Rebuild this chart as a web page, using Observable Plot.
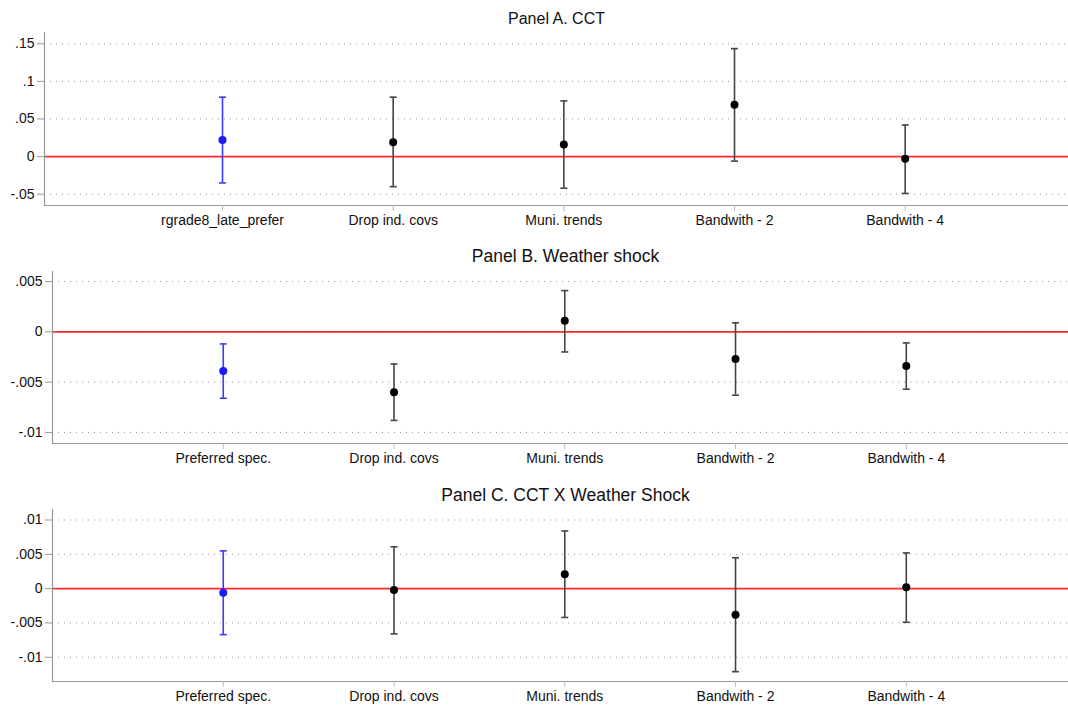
<!DOCTYPE html>
<html>
<head>
<meta charset="utf-8">
<script src="https://cdn.jsdelivr.net/npm/d3@7"></script>
<script src="https://cdn.jsdelivr.net/npm/@observablehq/plot@0.6"></script>
<style>
  html, body { margin: 0; padding: 0; background: #fff; }
  #chart svg { display: block; }
</style>
</head>
<body>
<div id="chart"></div>
<script>
// ---- data ----
const positions = [1, 2, 3, 4, 5];
const labelsA = ["rgrade8_late_prefer", "Drop ind. covs", "Muni. trends", "Bandwith - 2", "Bandwith - 4"];
const labelsBC = ["Preferred spec.", "Drop ind. covs", "Muni. trends", "Bandwith - 2", "Bandwith - 4"];

const titleA = "Panel A. CCT";
const estA = [0.022, 0.019, 0.016, 0.069, -0.003];
const loA  = [-0.035, -0.040, -0.042, -0.006, -0.049];
const hiA  = [0.079, 0.079, 0.074, 0.1436, 0.042];
const ticksA = [-0.05, 0, 0.05, 0.1, 0.15];

const titleB = "Panel B. Weather shock";
const estB = [-0.0039, -0.0060, 0.0011, -0.0027, -0.0034];
const loB  = [-0.0066, -0.0088, -0.0020, -0.0063, -0.0057];
const hiB  = [-0.0012, -0.0032, 0.0041, 0.0009, -0.0011];
const ticksB = [-0.01, -0.005, 0, 0.005];

const titleC = "Panel C. CCT X Weather Shock";
const estC = [-0.0006, -0.0002, 0.0021, -0.0038, 0.0002];
const loC  = [-0.0067, -0.0066, -0.0042, -0.0121, -0.0049];
const hiC  = [0.0055, 0.0061, 0.0084, 0.0045, 0.0052];
const ticksC = [-0.01, -0.005, 0, 0.005, 0.01];

const seriesColors = ["#1a1aff", "#000000", "#000000", "#000000", "#000000"];
const barColors = ["#3a3aff", "#444444", "#444444", "#444444", "#444444"];

// ---- helpers ----
const fmt = d => d === 0 ? "0" : String(+d.toPrecision(6)).replace(/^(-?)0\./, "$1.");
const capSymbol = {
  draw(ctx, size) {
    const w = 3.5;
    ctx.moveTo(-w, 0);
    ctx.lineTo(w, 0);
  }
};

function panel({title, labels, est, lo, hi, ticks, yDomain, xDomain, marginLeft, marginTop, marginBottom, height, titleDy, titleDx, titleSize}) {
  const data = positions.map((p, i) => ({p, est: est[i], lo: lo[i], hi: hi[i], c: seriesColors[i], bc: barColors[i]}));
  return Plot.plot({
    width: 1068,
    height,
    marginLeft,
    marginRight: 0,
    marginTop,
    marginBottom,
    style: {fontFamily: "'Liberation Sans', Arial, sans-serif", fontSize: "14px", background: "#fff", color: "#111"},
    x: {type: "linear", domain: xDomain, label: null},
    y: {domain: yDomain, label: null},
    marks: [
      Plot.gridY(ticks, {stroke: "#999", strokeOpacity: 1, strokeDasharray: "1,5"}),
      Plot.ruleY([0], {stroke: "#ff2a2a", strokeWidth: 1.6}),
      Plot.ruleX([xDomain[0]], {stroke: "#999", strokeWidth: 1.2}),
      Plot.ruleY([yDomain[0]], {stroke: "#999", strokeWidth: 1.2}),
      Plot.axisY(ticks, {tickFormat: fmt, tickSize: 7, tickPadding: 3, stroke: "#999", fill: "#111", fontSize: 14, label: null}),
      Plot.axisX(positions, {tickFormat: i => labels[i - 1], tickSize: 6, tickPadding: 4, stroke: "#bbb", fill: "#111", fontSize: 14, label: null}),
      Plot.ruleX(data, {x: "p", y1: "lo", y2: "hi", stroke: "bc", strokeWidth: 1.6}),
      Plot.dot(data, {x: "p", y: "lo", symbol: capSymbol, r: 3, stroke: "bc", strokeWidth: 1.6}),
      Plot.dot(data, {x: "p", y: "hi", symbol: capSymbol, r: 3, stroke: "bc", strokeWidth: 1.6}),
      Plot.dot(data, {x: "p", y: "est", r: 4, fill: "c", stroke: null}),
      Plot.text([title], {frameAnchor: "top", lineAnchor: "middle", dy: titleDy, dx: titleDx, fontSize: titleSize, fill: "#111"})
    ]
  });
}

const chart = document.getElementById("chart");
chart.append(panel({title: titleA, labels: labelsA, est: estA, lo: loA, hi: hiA, ticks: ticksA,
  yDomain: [-0.065, 0.165], xDomain: [-0.043, 5.957], marginLeft: 44,
  height: 236, marginTop: 32, marginBottom: 31, titleDy: -14, titleDx: 0, titleSize: 16}));
chart.append(panel({title: titleB, labels: labelsBC, est: estB, lo: loB, hi: hiB, ticks: ticksB,
  yDomain: [-0.0111, 0.0060], xDomain: [0, 5.95], marginLeft: 52,
  height: 236, marginTop: 35, marginBottom: 29, titleDy: -15, titleDx: 5, titleSize: 17.5}));
chart.append(panel({title: titleC, labels: labelsBC, est: estC, lo: loC, hi: hiC, ticks: ticksC,
  yDomain: [-0.01353, 0.01153], xDomain: [0, 5.95], marginLeft: 52,
  height: 236, marginTop: 37, marginBottom: 27, titleDy: -14, titleDx: 5, titleSize: 17.5}));
</script>
</body>
</html>
